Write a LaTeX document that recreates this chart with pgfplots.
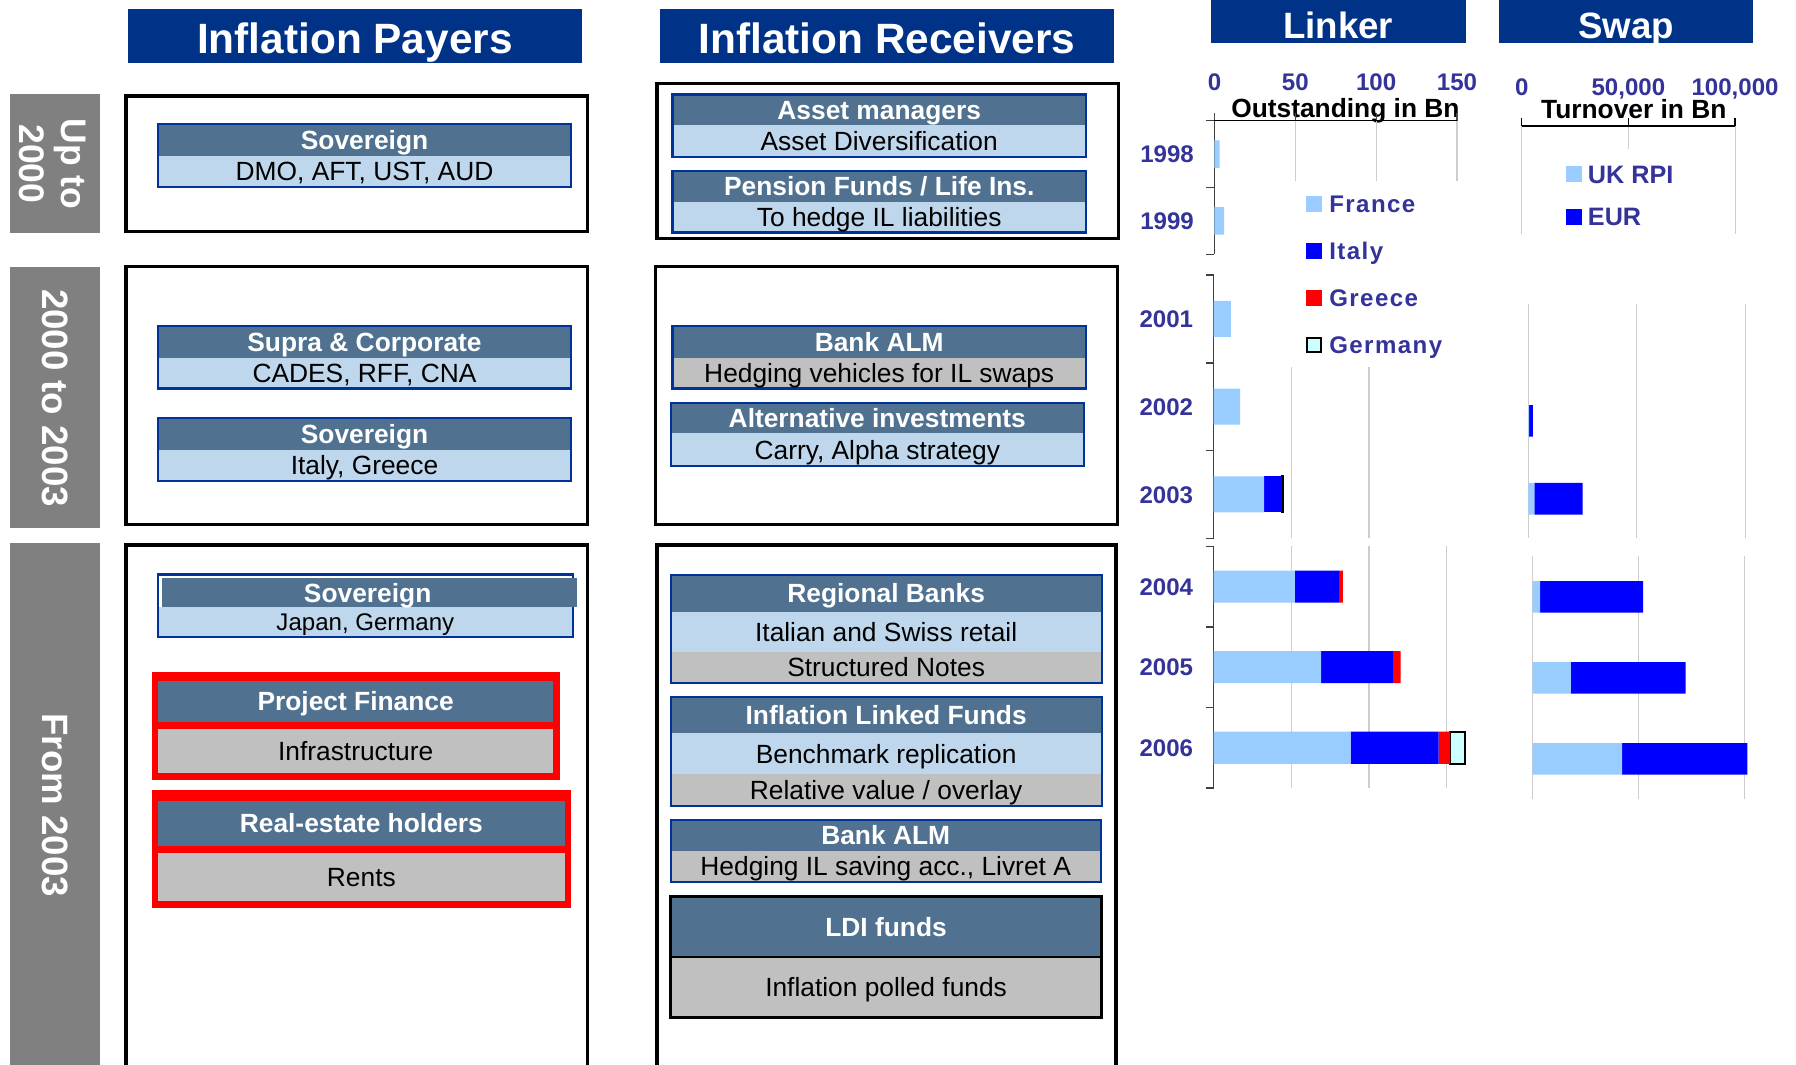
\documentclass[border=0pt]{standalone}
\usepackage{fontspec}
\setmainfont{Liberation Sans}
\newfontfamily\legfont{Liberation Sans}[LetterSpace=6]
\usepackage{pgfplots}
\pgfplotsset{compat=1.18}

\definecolor{hdrblue}{RGB}{0,51,136}
\definecolor{steel}{RGB}{80,114,144}
\definecolor{ltblue}{RGB}{190,215,236}
\definecolor{boxgray}{RGB}{192,192,192}
\definecolor{sidegray}{RGB}{128,128,128}
\definecolor{bdblue}{RGB}{0,51,153}
\definecolor{txtblue}{RGB}{51,51,153}
\definecolor{france}{RGB}{153,204,255}
\definecolor{italy}{RGB}{0,0,255}
\definecolor{greece}{RGB}{255,0,0}
\definecolor{germany}{RGB}{204,255,255}
\definecolor{gridgray}{RGB}{205,205,205}

\tikzset{
  hd/.style={text=white, font=\fontsize{11.5}{13}\selectfont\bfseries, inner sep=0pt, text height=8.2pt, text depth=0pt},
  sb/.style={text=black, font=\fontsize{11.5}{13}\selectfont, inner sep=0pt, text height=8.2pt, text depth=0pt},
  bighd/.style={text=white, font=\fontsize{18.5}{20}\selectfont\bfseries, inner sep=0pt, text height=13.2pt, text depth=0pt},
  chd/.style={text=white, font=\fontsize{16}{18}\selectfont\bfseries, inner sep=0pt, text height=11.5pt, text depth=0pt},
  side/.style={text=white, rotate=-90, align=center, inner sep=0pt},
  ttl/.style={text=black, font=\fontsize{11.5}{13}\selectfont\bfseries, inner sep=0pt, text height=8.2pt, text depth=0pt},
  yearlab/.style={anchor=east, xshift=-8.8pt, inner sep=0pt, text=txtblue, font=\fontsize{10.5}{12}\selectfont\bfseries, text height=7.5pt, text depth=0pt},
}

\pgfplotsset{
  chart/.style={
    scale only axis, clip=false, anchor=south west,
    tick align=outside, major tick length=3.5pt,
    xmajorgrids, major grid style={draw=gridgray, line width=0.5pt},
    axis line style={-},
    scaled x ticks=false,
    xticklabel style={font=\fontsize{10.5}{12}\selectfont\bfseries, text=txtblue},
  },
}

\newcommand{\twoband}[8]{%
  \fill[steel] (#1,#2) rectangle (#3,#4);
  \fill[#6] (#1,#4) rectangle (#3,#5);
  \draw[bdblue, line width=1pt] (#1,#2) rectangle (#3,#5);
  \node[hd] at ({(#1+#3)/2},{(#2+#4)/2}) {#7};
  \node[sb] at ({(#1+#3)/2},{(#4+#5)/2}) {#8};
}
\newcommand{\threeband}[9]{%
  \fill[steel] (#1,#2) rectangle (#3,#4);
  \fill[ltblue] (#1,#4) rectangle (#3,#5);
  \fill[boxgray] (#1,#5) rectangle (#3,#6);
  \draw[bdblue, line width=1pt] (#1,#2) rectangle (#3,#6);
  \node[hd] at ({(#1+#3)/2},{(#2+#4)/2}) {#7};
  \node[sb] at ({(#1+#3)/2},{(#4+#5)/2}) {#8};
  \node[sb] at ({(#1+#3)/2},{(#5+#6)/2}) {#9};
}

\begin{document}
\begin{tikzpicture}
\path[use as bounding box, fill=white] (0pt,0pt) rectangle (784pt,-464.5pt);

\begin{scope}[x=0.5pt, y=-0.5pt]
% column headers
\fill[hdrblue] (111.9,8.1) rectangle (507.9,55.3);
\node[bighd] at (309.9,33.5) {Inflation Payers};
\fill[hdrblue] (576.2,8.1) rectangle (972.6,55.3);
\node[bighd] at (774.3,33.5) {Inflation Receivers};
\fill[hdrblue] (1057.3,0) rectangle (1279.5,37.8);
\node[chd] at (1168.2,22.5) {Linker};
\fill[hdrblue] (1308.3,0) rectangle (1530.8,37.8);
\node[chd] at (1419.6,22.5) {Swap};

% side labels
\fill[sidegray] (8.4,82.4) rectangle (86.9,203);
\node[side, font=\fontsize{15.5}{18.4}\selectfont\bfseries] at (46,143) {Up to\\2000};
\fill[sidegray] (8.4,233.4) rectangle (87.5,461.3);
\node[side, font=\fontsize{16}{18}\selectfont\bfseries] at (48.5,347.5) {2000 to 2003};
\fill[sidegray] (8.4,474.4) rectangle (87.5,940);
\node[side, font=\fontsize{16}{18}\selectfont\bfseries] at (48,703) {From 2003};

% frames
\draw[line width=1.5pt] (110.1,83.9) rectangle (513.1,202.2);
\draw[line width=1.5pt] (110.1,232.9) rectangle (513.1,457.7);
\draw[line width=1.5pt] (110.1,475.9) rectangle (513.1,945);
\draw[line width=1.5pt] (573.4,72.8) rectangle (976.3,208);
\draw[line width=1.5pt] (572.5,232.9) rectangle (975.5,457.7);
\draw[line width=1.5pt] (573.4,475.9) rectangle (974.5,945);

% payers boxes
\twoband{138}{108.5}{498.5}{135.9}{163.5}{ltblue}{Sovereign}{DMO, AFT, UST, AUD}
\twoband{138}{284.6}{498.5}{312.3}{339.3}{ltblue}{Supra \& Corporate}{CADES, RFF, CNA}
\twoband{138}{365.2}{498.5}{392.9}{419.7}{ltblue}{Sovereign}{Italy, Greece}

\fill[ltblue] (138,529.8) rectangle (500.3,556.2);
\draw[bdblue, line width=1pt] (138,501.6) rectangle (500.3,556.2);
\fill[steel] (141.4,505) rectangle (503.7,529.8);
\node[hd] at (321,517.4) {Sovereign};
\node[sb, font=\fontsize{10.5}{12}\selectfont, text height=7.5pt] at (319,543) {Japan, Germany};

\fill[red] (132.6,586.4) rectangle (488.6,680.7);
\fill[steel] (138,594.4) rectangle (482.9,630.7);
\fill[boxgray] (138,636.5) rectangle (482.9,675.3);
\node[hd] at (310.5,612.5) {Project Finance};
\node[sb] at (310.5,656) {Infrastructure};

\fill[red] (132.6,689.7) rectangle (498.7,792.9);
\fill[steel] (138,699) rectangle (493,738.4);
\fill[boxgray] (138,744.4) rectangle (493,786.8);
\node[hd] at (315.5,718.7) {Real-estate holders};
\node[sb] at (315.5,765.6) {Rents};

% receivers boxes
\twoband{587}{82.4}{948.2}{109.1}{136.8}{ltblue}{Asset managers}{Asset Diversification}
\twoband{587}{149}{948.2}{176.1}{203.1}{ltblue}{Pension Funds / Life Ins.}{To hedge IL liabilities}
\twoband{587}{284.6}{948.2}{312.3}{339.3}{boxgray}{Bank ALM}{Hedging vehicles for IL swaps}
\twoband{585.5}{352.1}{946.4}{378.3}{406.8}{ltblue}{Alternative investments}{Carry, Alpha strategy}
\threeband{585.5}{502}{961.8}{534}{569}{596}{Regional Banks}{Italian and Swiss retail}{Structured Notes}
\threeband{585.5}{608.8}{961.8}{640.2}{675.7}{703.4}{Inflation Linked Funds}{Benchmark replication}{Relative value / overlay}
\twoband{585.5}{715.9}{961}{742.7}{769.8}{boxgray}{Bank ALM}{Hedging IL saving acc., Livret A}

\fill[steel] (585.5,782.8) rectangle (961.8,835.2);
\fill[boxgray] (585.5,835.2) rectangle (961.8,888.2);
\draw[black, line width=1.25pt] (585.5,782.8) rectangle (961.8,888.2);
\draw[black, line width=1pt] (585.5,835.2) -- (961.8,835.2);
\node[hd] at (773.6,809) {LDI funds};
\node[sb] at (773.6,861.7) {Inflation polled funds};

% axis titles
\node[ttl] at (1174.6,94.5) {Outstanding in Bn};
\node[ttl] at (1426.4,95) {Turnover in Bn};
\end{scope}

% ---------------- Linker, 2004-2006
\begin{axis}[chart, xbar stacked, bar width=14pt,
  at={(529.8pt,-344pt)}, width=101.7pt, height=105.5pt,
  xmin=0, xmax=150, ymin=0, ymax=3,
  axis x line*=bottom, x axis line style={draw=none},
  xtick={50,100,150}, xticklabels={}, xtick style={draw=none},
  axis y line*=left, y axis line style={black!75, line width=0.65pt},
  ytick={0,1,2,3}, yticklabels={}, ytick style={black!75, line width=0.65pt}]
\addplot[fill=france, draw=none] coordinates {(88.2,0.5) (69.1,1.5) (52.2,2.5)};
\addplot[fill=italy, draw=none] coordinates {(56.7,0.5) (46.2,1.5) (28.5,2.5)};
\addplot[fill=greece, draw=none] coordinates {(7.3,0.5) (5.1,1.5) (2.4,2.5)};
\addplot[fill=germany, draw=black, line width=0.9pt] coordinates {(9.7,0.5)};
\node[yearlab] at (axis cs:0,2.5) {2004};
\node[yearlab] at (axis cs:0,1.5) {2005};
\node[yearlab] at (axis cs:0,0.5) {2006};
\end{axis}

% ---------------- Linker, 2001-2003
\begin{axis}[chart, xbar stacked, bar width=15.7pt,
  at={(529.8pt,-235pt)}, width=101.7pt, height=114.95pt,
  xmin=0, xmax=150, ymin=0, ymax=3,
  axis x line*=bottom, x axis line style={draw=none},
  xtick={50,100}, xticklabels={}, xtick style={draw=none},
  axis y line*=left, y axis line style={black!75, line width=0.65pt},
  ytick={0,1,2,3}, yticklabels={}, ytick style={black!75, line width=0.65pt}]
\addplot[fill=france, draw=none] coordinates {(32.4,0.5) (17.0,1.5) (11.1,2.5)};
\addplot[fill=italy, draw=none] coordinates {(11.4,0.5)};
\addplot[fill=germany, draw=black, line width=0.9pt] coordinates {(0.8,0.5)};
\node[yearlab] at (axis cs:0,2.5) {2001};
\node[yearlab] at (axis cs:0,1.5) {2002};
\node[yearlab] at (axis cs:0,0.5) {2003};
\end{axis}

% ---------------- Linker, 1998-1999 (with top axis and legend)
\begin{axis}[chart,
  at={(530.15pt,-111pt)}, width=105.85pt, height=58.3pt,
  xmin=0, xmax=150, ymin=0, ymax=2,
  axis x line*=top, x axis line style={black, line width=0.65pt},
  xtick={0,50,100,150}, xticklabels={0,50,100,150},
  xtick style={black!70, line width=0.5pt},
  xticklabel style={anchor=base, yshift=9.8pt, inner sep=0pt},
  axis y line*=left, y axis line style={black!75, line width=0.65pt},
  ytick={0,1,2}, yticklabels={}, ytick style={black!75, line width=0.65pt},
  legend cell align=left,
  legend style={at={(axis description cs:0.31,0.549)}, anchor=north west,
    draw=none, fill=white, inner xsep=7pt, inner ysep=6pt, row sep=13pt,
    font=\legfont\fontsize{10.5}{12}\selectfont\bfseries, text=txtblue,
    nodes={inner sep=0pt, text height=7.5pt, text depth=0pt},
    /tikz/every odd column/.append style={column sep=3pt}}]
\addplot[xbar, bar width=12pt, fill=france, draw=none, forget plot] coordinates {(3.1,1.5) (6.0,0.5)};
\node[yearlab] at (axis cs:0,1.5) {1998};
\node[yearlab] at (axis cs:0,0.5) {1999};
\addlegendimage{legend image code/.code={\path[fill=france, draw=none] (0pt,-3.5pt) rectangle (7pt,3.5pt);}}
\addlegendentry{France}
\addlegendimage{legend image code/.code={\path[fill=italy, draw=none] (0pt,-3.5pt) rectangle (7pt,3.5pt);}}
\addlegendentry{Italy}
\addlegendimage{legend image code/.code={\path[fill=greece, draw=none] (0pt,-3.5pt) rectangle (7pt,3.5pt);}}
\addlegendentry{Greece}
\addlegendimage{legend image code/.code={\path[fill=germany, draw=black, line width=0.9pt] (0.4pt,-3.1pt) rectangle (6.6pt,3.1pt);}}
\addlegendentry{Germany}
\end{axis}

% ---------------- Swap, 2004-2006
\begin{axis}[chart, xbar stacked, bar width=13.8pt,
  at={(669pt,-348.95pt)}, width=92.6pt, height=106.1pt,
  xmin=0, xmax=100000, ymin=0, ymax=3,
  axis x line*=bottom, axis y line*=left, axis line style={draw=none},
  xtick={0,50000,100000}, xticklabels={}, xtick style={draw=none}, ytick=\empty]
\addplot[fill=france, draw=none] coordinates {(42200,0.5) (18000,1.5) (3500,2.5)};
\addplot[fill=italy, draw=none] coordinates {(59000,0.5) (54100,1.5) (48600,2.5)};
\end{axis}

% ---------------- Swap, 2001-2003
\begin{axis}[chart, xbar stacked, bar width=13.8pt,
  at={(667.2pt,-234.75pt)}, width=94.6pt, height=102.05pt,
  xmin=0, xmax=100000, ymin=0, ymax=3,
  axis x line*=bottom, axis y line*=left, axis line style={draw=none},
  xtick={0,50000,100000}, xticklabels={}, xtick style={draw=none}, ytick=\empty]
\addplot[fill=france, draw=none] coordinates {(2700,0.5) (300,1.5)};
\addplot[fill=italy, draw=none] coordinates {(22300,0.5) (1700,1.5)};
\end{axis}

% ---------------- Swap, top (axis + legend)
\begin{axis}[chart,
  at={(664.25pt,-102pt)}, width=93.15pt, height=47pt,
  xmin=0, xmax=100000, ymin=0, ymax=2,
  axis x line*=top, x axis line style={black, line width=0.65pt},
  xtick={0,50000,100000}, xticklabels={0,{50,000},{100,000}},
  xtick style={black, line width=0.65pt},
  xticklabel style={anchor=base, yshift=10pt, inner sep=0pt},
  axis y line*=left, y axis line style={draw=none}, ytick=\empty,
  legend cell align=left,
  legend style={at={(axis description cs:0.158,0.787)}, anchor=north west,
    draw=none, fill=white, inner xsep=4.5pt, inner ysep=7pt, row sep=10.7pt,
    font=\fontsize{11}{13}\selectfont\bfseries, text=txtblue,
    nodes={inner sep=0pt, text height=7.8pt, text depth=0pt},
    /tikz/every odd column/.append style={column sep=2.5pt}}]
\addlegendimage{legend image code/.code={\path[fill=france, draw=none] (0pt,-3.5pt) rectangle (7pt,3.5pt);}}
\addlegendentry{UK RPI}
\addlegendimage{legend image code/.code={\path[fill=italy, draw=none] (0pt,-3.5pt) rectangle (7pt,3.5pt);}}
\addlegendentry{EUR}
\end{axis}
\end{tikzpicture}
\end{document}
